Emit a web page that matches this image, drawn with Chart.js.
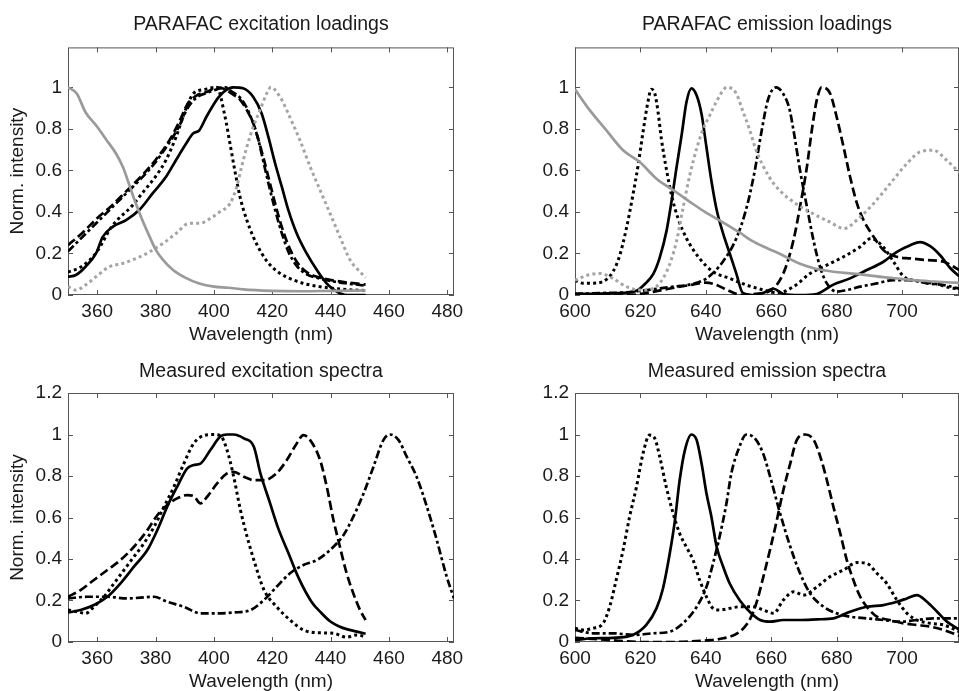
<!DOCTYPE html>
<html>
<head>
<meta charset="utf-8">
<script src="https://cdn.jsdelivr.net/npm/chart.js@4/dist/chart.umd.min.js"></script>
<style>
  html, body { margin: 0; padding: 0; background: #fff; }
  body { width: 959px; height: 691px; position: relative; overflow: hidden; }
  canvas { position: absolute; }
</style>
</head>
<body>
<canvas id="c1" width="479" height="345" style="left:0;top:0"></canvas>
<canvas id="c2" width="480" height="345" style="left:479px;top:0"></canvas>
<canvas id="c3" width="479" height="346" style="left:0;top:345px"></canvas>
<canvas id="c4" width="480" height="346" style="left:479px;top:345px"></canvas>
<script>
// ---------- tick labels ----------
const xTicksExc = [360, 380, 400, 420, 440, 460, 480];
const xTicksEm = [600, 620, 640, 660, 680, 700];
const yTicksLoad = [0, 0.2, 0.4, 0.6, 0.8, 1];
const yTicksMeas = [0, 0.2, 0.4, 0.6, 0.8, 1, 1.2];

// ---------- PARAFAC excitation loadings ----------
const pExGraySolidX = [350,353,356,360,363,366.5,369,371,373,375.5,378,380,382.5,386,390,395,400,405,410,420,430,440,452];
const pExGraySolidY = [1.0,0.97,0.88,0.81,0.75,0.68,0.61,0.53,0.45,0.36,0.28,0.22,0.17,0.12,0.085,0.055,0.04,0.035,0.027,0.02,0.018,0.02,0.022];
const pExGrayDotX = [350,352.7,356,359.6,364.2,368.8,373.3,377.9,382.5,387,391.5,395,399.6,402,405.5,407.8,409.5,411.3,413.5,415.8,418.1,419.5,422.7,426,429.5,433,436.4,439.8,443.2,446.7,449.5,452];
const pExGrayDotY = [0.04,0.024,0.048,0.088,0.136,0.152,0.176,0.207,0.248,0.296,0.345,0.345,0.376,0.40,0.44,0.52,0.617,0.713,0.81,0.89,0.97,1.0,0.953,0.857,0.745,0.617,0.505,0.393,0.28,0.168,0.12,0.085];
const pExSolidX = [350,352.7,356,359.6,361.9,365.3,369.9,374.4,379,383.6,387,390.5,392.8,395,397.4,399.6,401.5,404,406.6,410,413.5,416.4,418.7,421,423.3,425.5,428.4,431.8,435.3,438.7,442.1,445.5,448,452];
const pExSolidY = [0.088,0.096,0.136,0.2,0.28,0.328,0.36,0.409,0.489,0.569,0.649,0.729,0.777,0.793,0.857,0.91,0.95,0.985,1.0,0.995,0.953,0.873,0.76,0.633,0.52,0.41,0.296,0.2,0.12,0.055,0.016,0.0,0.0,0.0];
const pExDotX = [350,355,360,365,372,376,380,383.6,387,390.5,393,397,401,403.8,405.5,407.3,409,411.3,413.5,416.4,419.3,422.7,427.3,431.8,436.4,441,445.5,452];
const pExDotY = [0.11,0.14,0.21,0.33,0.43,0.5,0.57,0.65,0.76,0.9,0.97,0.99,1.0,0.86,0.73,0.59,0.47,0.36,0.28,0.2,0.144,0.104,0.072,0.052,0.04,0.032,0.026,0.022];
const pExDashDotX = [350,355,360,365,370,375,380,385,388,391,394,398,401,404,406,409,411.3,413.4,415,417,419,421,423,425.5,428.4,431.8,436,441,446,452];
const pExDashDotY = [0.21,0.28,0.35,0.42,0.49,0.56,0.64,0.74,0.81,0.9,0.95,0.975,0.99,1.0,0.98,0.95,0.9,0.83,0.76,0.64,0.52,0.41,0.31,0.21,0.14,0.1,0.08,0.065,0.055,0.045];
const pExDashX = [350,355,360,365,370,375,380,385,388,391,394,398,401,404,406,409,411.3,413.4,415,417,419,421,423,425.5,428.4,431.8,436,441,446,452];
const pExDashY = [0.24,0.3,0.37,0.43,0.5,0.57,0.65,0.75,0.83,0.92,0.96,0.98,1.0,0.99,0.97,0.94,0.89,0.83,0.76,0.66,0.55,0.44,0.34,0.24,0.16,0.11,0.085,0.07,0.06,0.05];

// ---------- PARAFAC emission loadings ----------
const pEmGraySolidX = [600,604.5,609.6,614.7,619.8,624.9,630,635,640.2,645.2,650.4,654,658.6,662.4,668.8,673.9,679,684.1,689.2,694.3,699.4,704.5,709.6,717.5];
const pEmGraySolidY = [0.99,0.89,0.793,0.697,0.64,0.56,0.505,0.45,0.395,0.35,0.3,0.262,0.226,0.2,0.15,0.125,0.112,0.104,0.096,0.086,0.078,0.07,0.065,0.058];
const pEmDotX = [600,602.4,605.5,608.5,611.6,613.7,615.7,617.7,619.3,620.8,622.3,623.3,624.4,625.4,626.4,627.9,629.5,631.5,634.1,638.1,642.2,647.3,652.4,657.5,662,666.8,671.9,677,682.1,687.2,690.5,694.3,697.4,700.4,704.5,709.6,715.7,717.5];
const pEmDotY = [0.07,0.057,0.057,0.064,0.112,0.192,0.32,0.481,0.625,0.785,0.93,0.99,0.97,0.88,0.753,0.609,0.481,0.369,0.272,0.176,0.112,0.08,0.048,0.025,0.01,0.04,0.104,0.144,0.184,0.232,0.272,0.23,0.16,0.09,0.068,0.056,0.032,0.03];
const pEmSolidX = [600,605,610,614.7,618.8,621.3,623.9,625.9,628,629.5,631,632.6,634.1,635.6,637.2,638.7,640.2,641.7,643.3,645.2,647.3,649.3,651.3,654.4,657.5,660.7,663.7,668.8,673.9,679,684.1,689.2,694.3,698.4,702.5,705.5,708.6,711.7,714.7,717.5];
const pEmSolidY = [0.005,0.005,0.008,0.01,0.02,0.052,0.1,0.18,0.31,0.45,0.61,0.77,0.93,0.995,0.96,0.87,0.71,0.55,0.41,0.30,0.2,0.104,0.01,0.0,0.01,0.03,0.005,0.0,0.005,0.05,0.08,0.12,0.16,0.208,0.24,0.255,0.235,0.19,0.13,0.09];
const pEmGrayDotX = [600,603.5,607.6,611.6,615.7,619.8,623.9,628,631,633,635.1,637.2,639.2,641.2,643.2,646.5,649.3,651.2,653.3,655.3,659.3,662.4,667.5,672.6,677.7,682.3,686.2,691.3,696.4,701.5,705.5,709.6,713.6,717.5];
const pEmGrayDotY = [0.07,0.094,0.104,0.08,0.04,0.024,0.032,0.112,0.256,0.417,0.577,0.705,0.8,0.865,0.93,1.0,0.97,0.89,0.8,0.70,0.57,0.506,0.44,0.393,0.353,0.32,0.361,0.441,0.537,0.633,0.689,0.697,0.649,0.59];
const pEmDashDotX = [600,610,615,620,625,630,635,640.2,645.2,649.3,652.4,654.9,657,659,661.5,664,665.5,666.8,668.8,670.9,672.9,674.9,677,680,683.1,687.2,692.3,697.4,702.5,707.6,712.7,717.5];
const pEmDashDotY = [0.005,0.01,0.012,0.02,0.03,0.04,0.05,0.08,0.16,0.272,0.417,0.593,0.785,0.94,1.0,0.96,0.9,0.793,0.6,0.425,0.264,0.136,0.056,0.016,0.024,0.04,0.056,0.072,0.072,0.056,0.048,0.03];
const pEmDashX = [600,610,617,622,627,632,636,640,643,647,651,655,659.6,663.7,666.8,668.8,670.9,672.4,673.9,675.4,678,680,682.1,684.1,686.2,688.2,691.3,694.3,698.4,702.5,707.6,712.7,717.5];
const pEmDashY = [0.0,0.0,0.0,0.01,0.025,0.04,0.05,0.06,0.05,0.02,0.0,0.005,0.02,0.104,0.264,0.425,0.617,0.793,0.937,1.0,0.97,0.857,0.713,0.569,0.441,0.361,0.28,0.216,0.184,0.176,0.168,0.16,0.12];

// ---------- Measured excitation spectra ----------
const mExSolidX = [350,354.3,358.9,363.5,368,372.6,377.2,380.6,384,387.4,390.8,393.1,395.4,398.8,402.2,404.5,406.8,410.3,413.7,416,419,422,425.5,429,433.5,436.5,439.8,443,445.5,449,452];
const mExSolidY = [0.142,0.154,0.178,0.218,0.283,0.363,0.443,0.539,0.652,0.748,0.836,0.853,0.86,0.925,0.99,1.0,1.0,0.981,0.941,0.81,0.68,0.55,0.43,0.31,0.193,0.145,0.1,0.075,0.062,0.05,0.04];
const mExDotX = [350,353.2,356,358.9,362.3,365.8,369.2,372.6,376,379.5,382.9,386.3,389.7,393.1,396.6,400,402.2,404.5,406.8,409.1,411.4,413.7,417.2,421.5,426.1,430.7,435.3,441,445.5,449,452];
const mExDotY = [0.154,0.146,0.138,0.17,0.218,0.283,0.347,0.411,0.475,0.555,0.652,0.748,0.86,0.957,0.995,1.0,0.995,0.925,0.796,0.636,0.507,0.395,0.25,0.17,0.106,0.058,0.045,0.042,0.023,0.034,0.026];
const mExDashX = [350,354.3,358.9,363.5,368,372.6,377.2,380.6,384,387.4,390.8,393.1,395.4,397.7,401.1,404.5,406.8,410.3,413.7,417.2,421.5,425,428.4,430.7,433,436.4,438.7,441,443.2,445.5,447.8,450.1,452];
const mExDashY = [0.218,0.25,0.299,0.347,0.395,0.459,0.539,0.611,0.66,0.692,0.708,0.703,0.668,0.7,0.764,0.813,0.82,0.796,0.78,0.78,0.813,0.877,0.957,0.997,0.973,0.877,0.748,0.587,0.459,0.331,0.234,0.154,0.106];
const mExDashDotX = [350,356.6,363.5,370.3,379.5,384,389.7,395.4,401.1,406.8,412.6,417,421.5,426.1,430.7,435.3,439.8,444.4,447.8,451.3,454.7,458.1,460.4,463.3,466.1,469.5,473,476.4,479.8,482.3];
const mExDashDotY = [0.21,0.218,0.218,0.21,0.218,0.194,0.17,0.138,0.138,0.142,0.154,0.2,0.266,0.331,0.371,0.395,0.443,0.515,0.604,0.716,0.845,0.973,1.0,0.973,0.893,0.796,0.652,0.491,0.315,0.21];

// ---------- Measured emission spectra ----------
const mEmDotX = [600,602.4,605.5,608.6,610.6,612.6,614.7,616.7,618.8,620.8,622.8,624.4,625.9,627.9,630,632,634,636.1,638.1,640.2,642.2,644.2,647.3,650.4,654.4,657.6,660.7,663.7,666.8,669.9,674,678,682.1,686.2,689.2,692.3,695.3,698.4,701.5,704.5,708.6,712.7,717.5];
const mEmDotY = [0.066,0.058,0.066,0.09,0.17,0.299,0.443,0.604,0.748,0.909,0.997,0.981,0.893,0.748,0.62,0.523,0.459,0.395,0.299,0.218,0.162,0.154,0.162,0.17,0.17,0.154,0.138,0.202,0.242,0.226,0.266,0.315,0.347,0.383,0.379,0.331,0.282,0.202,0.138,0.106,0.09,0.082,0.05];
const mEmSolidX = [600,605.5,611.6,617.7,621.8,624.9,626.9,628.9,630.5,632,633.6,635.6,637.2,638.7,640.2,641.7,643.3,645.3,647.3,650.4,653.4,656.6,659.6,663.7,668.8,674,679,684.1,689.2,694.3,698.4,701.5,704.5,707.6,710.7,713.7,717.5];
const mEmSolidY = [0.01,0.018,0.02,0.034,0.082,0.162,0.258,0.42,0.58,0.78,0.925,1.0,0.973,0.86,0.716,0.604,0.459,0.363,0.282,0.2,0.146,0.106,0.098,0.106,0.106,0.109,0.114,0.146,0.17,0.178,0.194,0.21,0.226,0.194,0.146,0.098,0.06];
const mEmDashDotX = [600,605.5,611.6,617.7,623.9,629,633,637.2,640.2,642.2,644.2,646.3,647.8,649.9,652.4,655,657.5,659.6,662.7,665.8,668.8,671.9,676,680,684.1,689.2,694.3,699.4,704.5,709.6,714.7,717.5];
const mEmDashDotY = [0.058,0.042,0.042,0.034,0.042,0.05,0.09,0.17,0.266,0.379,0.507,0.668,0.813,0.925,1.0,0.981,0.909,0.8,0.62,0.46,0.331,0.234,0.17,0.138,0.122,0.114,0.106,0.098,0.106,0.114,0.114,0.114];
const mEmDashX = [600,610,620,630,640.2,645.3,650.4,653.5,655.5,657.6,659.6,661.7,663.7,665.8,667.8,670.4,673,675,677,679,681.1,683.1,685.1,687.2,689.2,692.3,696.3,700.4,704.5,708.6,712.7,717.5];
const mEmDashY = [0.02,0.01,0.0,0.0,0.008,0.018,0.05,0.11,0.19,0.315,0.443,0.587,0.732,0.86,0.973,1.0,0.973,0.893,0.78,0.652,0.523,0.395,0.299,0.218,0.17,0.122,0.106,0.09,0.082,0.074,0.058,0.03];

// ---------- styling / drawing ----------
const FONT = "'Liberation Sans', Arial, Helvetica, sans-serif";
const TXT = '#1a1a1a';
const STYLES = {
  solid:    { borderColor: '#000', borderDash: [], borderWidth: 2.7 },
  dotted:   { borderColor: '#000', borderDash: [3, 3.2], borderWidth: 3 },
  dashed:   { borderColor: '#000', borderDash: [9, 4], borderWidth: 2.7 },
  dashdot:  { borderColor: '#000', borderDash: [8, 3, 3, 3], borderWidth: 2.7 },
  graySolid:{ borderColor: '#9a9a9a', borderDash: [], borderWidth: 2.7 },
  grayDot:  { borderColor: '#a4a4a4', borderDash: [3, 3.2], borderWidth: 3 }
};

function ds(xs, ys, kind) {
  const s = STYLES[kind];
  return {
    data: xs.map((x, i) => ({ x: x, y: ys[i] })),
    borderColor: s.borderColor,
    borderDash: s.borderDash,
    borderWidth: s.borderWidth,
    pointRadius: 0,
    fill: false,
    cubicInterpolationMode: 'monotone',
    borderJoinStyle: 'round',
    borderCapStyle: 'butt'
  };
}

const frame = {
  id: 'frame',
  beforeDatasetsDraw(chart) {
    const { ctx, chartArea: a, scales } = chart;
    const x = scales.x, y = scales.y;
    ctx.save();
    ctx.strokeStyle = '#555';
    ctx.lineWidth = 1;
    ctx.strokeRect(a.left + 0.5, a.top + 0.5, a.right - a.left - 1, a.bottom - a.top - 1);
    const L = 5;
    ctx.beginPath();
    x.ticks.forEach(t => {
      const p = Math.round(x.getPixelForValue(t.value)) + 0.5;
      ctx.moveTo(p, a.bottom); ctx.lineTo(p, a.bottom - L);
      ctx.moveTo(p, a.top); ctx.lineTo(p, a.top + L);
    });
    y.ticks.forEach(t => {
      const p = Math.round(y.getPixelForValue(t.value)) + 0.5;
      ctx.moveTo(a.left, p); ctx.lineTo(a.left + L, p);
      ctx.moveTo(a.right, p); ctx.lineTo(a.right - L, p);
    });
    ctx.stroke();
    ctx.restore();
  }
};

function makeChart(id, o) {
  new Chart(document.getElementById(id), {
    type: 'line',
    data: { datasets: o.datasets },
    options: {
      responsive: false,
      animation: false,
      events: [],
      layout: { padding: { left: 0, right: o.padRight, top: 0, bottom: 0 } },
      plugins: {
        legend: { display: false },
        tooltip: { enabled: false },
        title: {
          display: true, text: o.title, color: TXT, fullSize: false,
          font: { family: FONT, size: 19.5, weight: 'normal', lineHeight: 1.2 },
          padding: { top: o.titleTop, bottom: o.titleBottom }
        }
      },
      scales: {
        x: {
          type: 'linear', min: o.xMin, max: o.xMax,
          grid: { display: false, drawTicks: false },
          border: { display: false },
          afterBuildTicks: s => { s.ticks = o.xTicks.map(v => ({ value: v })); },
          afterFit: s => { s.height = o.xAxisH; },
          ticks: {
            autoSkip: false, maxRotation: 0, padding: 5, color: TXT,
            font: { family: FONT, size: 19, lineHeight: 1.2 },
            callback: v => String(v)
          },
          title: {
            display: true, text: 'Wavelength (nm)', color: TXT,
            font: { family: FONT, size: 19, lineHeight: 1 },
            padding: { top: 0, bottom: o.xTitleBottom }
          }
        },
        y: {
          type: 'linear', min: 0, max: o.yMax,
          grid: { display: false, drawTicks: false },
          border: { display: false },
          afterBuildTicks: s => { s.ticks = o.yTicks.map(v => ({ value: v })); },
          afterFit: s => { s.width = o.yAxisW; },
          ticks: {
            autoSkip: false, padding: 6, color: TXT,
            font: { family: FONT, size: 19, lineHeight: 1.2 },
            callback: v => String(Math.round(v * 10) / 10)
          },
          title: {
            display: o.yTitle !== '', text: o.yTitle, color: TXT,
            font: { family: FONT, size: 19, lineHeight: 1 },
            padding: { top: 8.5, bottom: 0 }
          }
        }
      }
    },
    plugins: [frame]
  });
}

makeChart('c1', {
  title: 'PARAFAC excitation loadings', titleTop: 12.8, titleBottom: 11.2,
  xMin: 350, xMax: 482.3, xTicks: xTicksExc, yMax: 1.192, yTicks: yTicksLoad,
  yAxisW: 68, xAxisH: 50, padRight: 25, xTitleBottom: 0.5, yTitle: 'Norm. intensity',
  datasets: [
    ds(pExGraySolidX, pExGraySolidY, 'graySolid'),
    ds(pExGrayDotX, pExGrayDotY, 'grayDot'),
    ds(pExDashX, pExDashY, 'dashed'),
    ds(pExDashDotX, pExDashDotY, 'dashdot'),
    ds(pExDotX, pExDotY, 'dotted'),
    ds(pExSolidX, pExSolidY, 'solid')
  ]
});

makeChart('c2', {
  title: 'PARAFAC emission loadings', titleTop: 12.8, titleBottom: 11.2,
  xMin: 600, xMax: 717.4, xTicks: xTicksEm, yMax: 1.192, yTicks: yTicksLoad,
  yAxisW: 96, xAxisH: 50, padRight: 0, xTitleBottom: 0.5, yTitle: '',
  datasets: [
    ds(pEmGraySolidX, pEmGraySolidY, 'graySolid'),
    ds(pEmGrayDotX, pEmGrayDotY, 'grayDot'),
    ds(pEmDashX, pEmDashY, 'dashed'),
    ds(pEmDashDotX, pEmDashDotY, 'dashdot'),
    ds(pEmDotX, pEmDotY, 'dotted'),
    ds(pEmSolidX, pEmSolidY, 'solid')
  ]
});

makeChart('c3', {
  title: 'Measured excitation spectra', titleTop: 14.5, titleBottom: 10.1,
  xMin: 350, xMax: 482.3, xTicks: xTicksExc, yMax: 1.2, yTicks: yTicksMeas,
  yAxisW: 68, xAxisH: 49, padRight: 25, xTitleBottom: 0, yTitle: 'Norm. intensity',
  datasets: [
    ds(mExDashX, mExDashY, 'dashed'),
    ds(mExDashDotX, mExDashDotY, 'dashdot'),
    ds(mExDotX, mExDotY, 'dotted'),
    ds(mExSolidX, mExSolidY, 'solid')
  ]
});

makeChart('c4', {
  title: 'Measured emission spectra', titleTop: 14.5, titleBottom: 10.1,
  xMin: 600, xMax: 717.4, xTicks: xTicksEm, yMax: 1.2, yTicks: yTicksMeas,
  yAxisW: 96, xAxisH: 49, padRight: 0, xTitleBottom: 0, yTitle: '',
  datasets: [
    ds(mEmDashX, mEmDashY, 'dashed'),
    ds(mEmDashDotX, mEmDashDotY, 'dashdot'),
    ds(mEmDotX, mEmDotY, 'dotted'),
    ds(mEmSolidX, mEmSolidY, 'solid')
  ]
});
</script>
</body>
</html>
